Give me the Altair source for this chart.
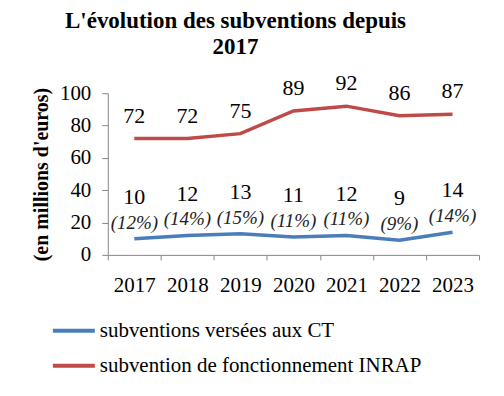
import altair as alt
import pandas as pd

years = ["2017", "2018", "2019", "2020", "2021", "2022", "2023"]
ct_values = [10, 12, 13, 11, 12, 9, 14]
ct_pct = ["(12%)", "(14%)", "(15%)", "(11%)", "(11%)", "(9%)", "(14%)"]
inrap_values = [72, 72, 75, 89, 92, 86, 87]
series_names = ["subventions versées aux CT", "subvention de fonctionnement INRAP"]
colors = ["#4A7EBB", "#BE4B48"]

FONT = "Liberation Serif"

rows = []
for i, y in enumerate(years):
    rows.append({"year": y, "value": ct_values[i], "series": series_names[0], "pct": ct_pct[i]})
    rows.append({"year": y, "value": inrap_values[i], "series": series_names[1], "pct": ""})
df = pd.DataFrame(rows)

x = alt.X("year:O", title=None,
          scale=alt.Scale(type="band", paddingInner=0, paddingOuter=0),
          bandPosition=0.5,
          axis=alt.Axis(labelAngle=0, tickBand="extent", tickSize=5, labelPadding=15,
                        labelFontSize=21, labelFont=FONT, labelColor="#000",
                        domainColor="#868686", tickColor="#868686"))
y = alt.Y("value:Q", title="(en millions d'euros)",
          scale=alt.Scale(domain=[0, 100]),
          axis=alt.Axis(values=[0, 20, 40, 60, 80, 100], grid=False, tickSize=6,
                        labelPadding=11, labelFontSize=21, labelFont=FONT, labelColor="#000",
                        domainColor="#868686", tickColor="#868686",
                        titleFont=FONT, titleFontSize=20, titleFontWeight="bold",
                        titleColor="#000", titlePadding=8))

color = alt.Color("series:N", title=None,
                  scale=alt.Scale(domain=series_names, range=colors),
                  legend=alt.Legend(orient="none", legendX=-57, legendY=215,
                                    direction="vertical", symbolType="stroke",
                                    symbolSize=1764, symbolStrokeWidth=4,
                                    labelFont=FONT, labelFontSize=21, labelColor="#000",
                                    labelLimit=0, rowPadding=2, labelOffset=3))

base = alt.Chart(df)

lines = base.mark_line(strokeWidth=3.5).encode(x=x, y=y, color=color)

ct_labels = base.transform_filter(alt.datum.series == series_names[0]).mark_text(
    font=FONT, fontSize=22, color="#000", baseline="middle", dy=-42
).encode(x=x, y=y, text="value:Q")

inrap_labels = base.transform_filter(alt.datum.series == series_names[1]).mark_text(
    font=FONT, fontSize=22, color="#000", baseline="middle", dy=-23
).encode(x=x, y=y, text="value:Q")

pct_labels = base.transform_filter(alt.datum.pct != "").mark_text(
    font=FONT, fontSize=19, fontStyle="italic", color="#222", baseline="middle", dy=-16
).encode(x=x, y=y, text="pct:N")

chart = alt.layer(lines, ct_labels, inrap_labels, pct_labels).properties(
    width=372, height=162,
    padding={"left": 23, "top": 1, "right": 16, "bottom": 5},
    title=alt.TitleParams(["L'évolution des subventions depuis", "2017"],
                          font=FONT, fontSize=23, fontWeight="bold", color="#000",
                          anchor="middle", dx=-58, lineHeight=26, offset=13)
).configure(font=FONT).configure_view(stroke=None).configure_axis(
    domainWidth=1, tickWidth=1, labelFont=FONT, titleFont=FONT
).configure_legend(labelFont=FONT).configure_text(font=FONT)

chart.save("out.html", embed_options={"renderer": "svg", "actions": False})
